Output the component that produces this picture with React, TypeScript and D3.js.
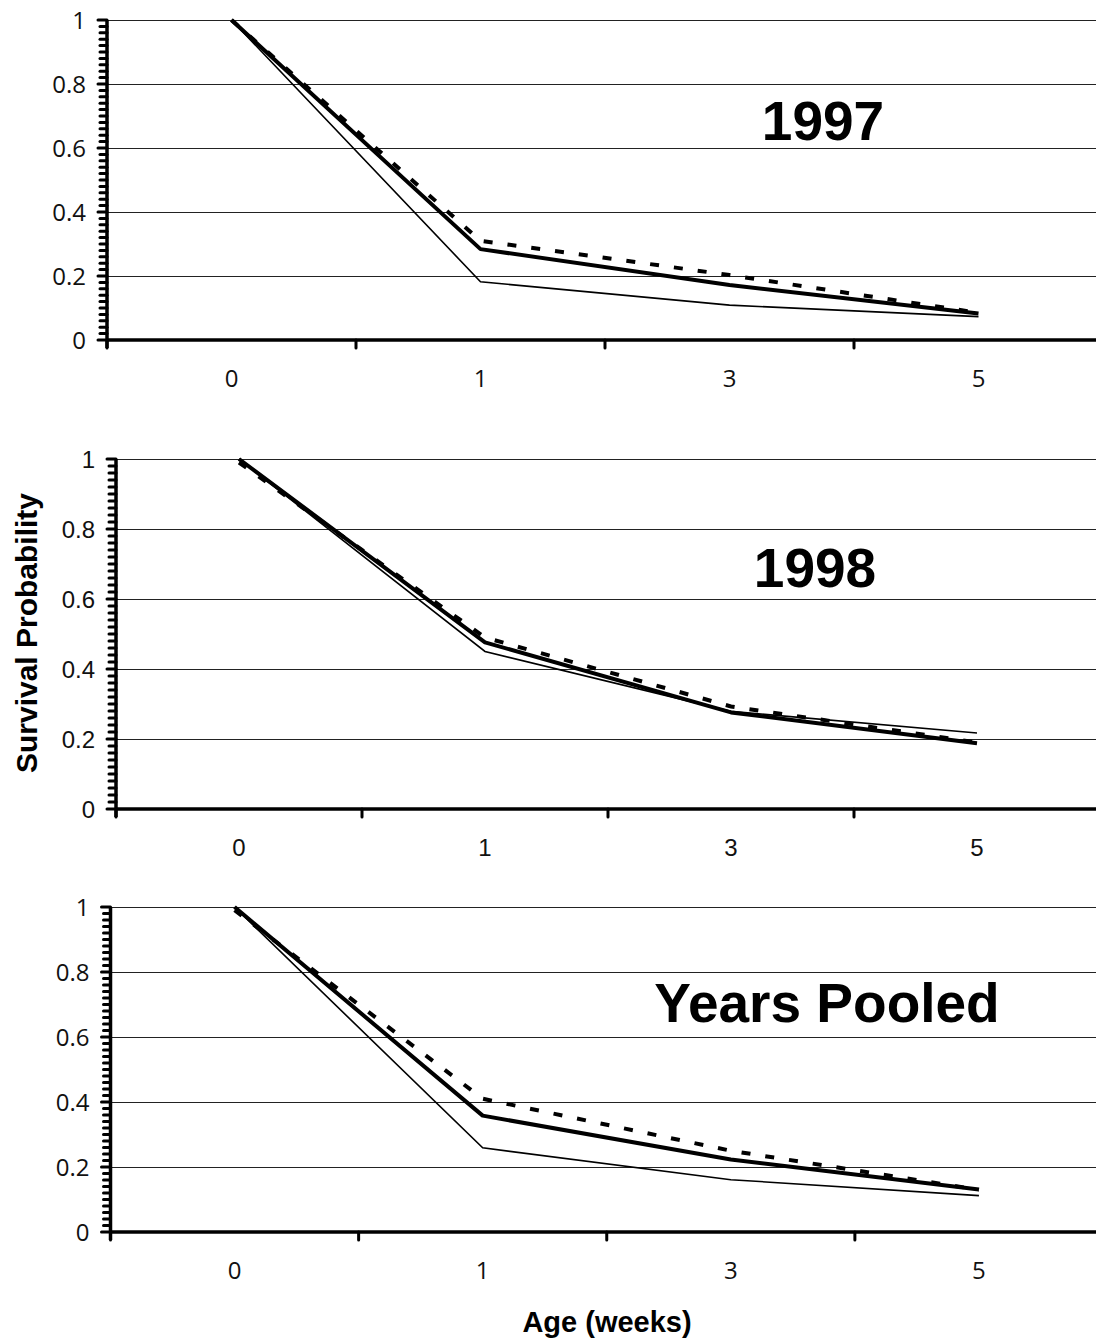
import React from "react";
import * as d3 from "d3";

const categories = ["0", "1", "3", "5"];
const yMajorTicks = [0, 0.2, 0.4, 0.6, 0.8, 1];
const yTickLabels = ["0", "0.2", "0.4", "0.6", "0.8", "1"];

const thick1997 = [1, 0.284, 0.172, 0.083];
const thin1997 = [1, 0.182, 0.109, 0.073];
const dashed1997 = [1, 0.31, 0.203, 0.085];

const thick1998 = [1, 0.476, 0.276, 0.188];
const thin1998 = [1, 0.45, 0.279, 0.217];
const dashed1998 = [0.99, 0.49, 0.293, 0.19];

const thickPooled = [1, 0.358, 0.223, 0.131];
const thinPooled = [1, 0.259, 0.161, 0.112];
const dashedPooled = [0.99, 0.41, 0.25, 0.13];

const titles = ["1997", "1998", "Years Pooled"];

type PanelCfg = {
  axisX: number;
  yTop: number;
  yBottom: number;
  xRight: number;
  title: string;
  titleX: number;
  titleY: number;
  tickFont: string;
  thick: number[];
  thin: number[];
  dashed: number[];
};

const panels: PanelCfg[] = [
  { axisX: 107, yTop: 20, yBottom: 340, xRight: 1103, title: titles[0], titleX: 823, titleY: 140, tickFont: "'Open Sans', sans-serif", thick: thick1997, thin: thin1997, dashed: dashed1997 },
  { axisX: 116, yTop: 459, yBottom: 809, xRight: 1100, title: titles[1], titleX: 815, titleY: 587, tickFont: "'Liberation Sans', Arial, sans-serif", thick: thick1998, thin: thin1998, dashed: dashed1998 },
  { axisX: 110.5, yTop: 907, yBottom: 1232, xRight: 1103, title: titles[2], titleX: 827, titleY: 1022, tickFont: "'Open Sans', sans-serif", thick: thickPooled, thin: thinPooled, dashed: dashedPooled },
];

function Panel({ cfg }: { cfg: PanelCfg }) {
  const x = d3.scaleBand<string>().domain(categories).range([cfg.axisX, cfg.xRight]);
  const y = d3.scaleLinear().domain([0, 1]).range([cfg.yBottom, cfg.yTop]);
  const cx = (i: number) => (x(categories[i]) as number) + x.bandwidth() / 2;
  const line = d3
    .line<number>()
    .x((_, i) => cx(i))
    .y((d) => y(d));
  const minor = d3.range(0, 51).map((k) => k / 50).filter((v) => Math.round(v * 50) % 10 !== 0);
  const boundaries = categories.map((c) => x(c) as number).concat([cfg.xRight]);
  return (
    <g>
      {yMajorTicks.filter((t) => t > 0).map((t) => (
        <line key={"g" + t} x1={cfg.axisX} x2={1100} y1={Math.round(y(t)) + 0.5} y2={Math.round(y(t)) + 0.5} stroke="#222" strokeWidth={1} />
      ))}
      {minor.map((t) => (
        <line key={"m" + t} x1={cfg.axisX - 7} x2={cfg.axisX} y1={y(t)} y2={y(t)} stroke="#000" strokeWidth={3} strokeLinecap="round" />
      ))}
      {yMajorTicks.map((t) => (
        <line key={"M" + t} x1={cfg.axisX - 9} x2={cfg.axisX} y1={y(t)} y2={y(t)} stroke="#000" strokeWidth={3} strokeLinecap="round" />
      ))}
      {yMajorTicks.map((t, i) => (
        <text key={"l" + t} x={cfg.axisX - 21} y={y(t)} dy="0.36em" textAnchor="end" fontFamily={cfg.tickFont} fontSize={24} fill="#111">
          {yTickLabels[i]}
        </text>
      ))}
      <line x1={cfg.axisX} x2={cfg.axisX} y1={cfg.yTop} y2={cfg.yBottom + 8} stroke="#000" strokeWidth={3.5} />
      <line x1={cfg.axisX} x2={cfg.xRight} y1={cfg.yBottom} y2={cfg.yBottom} stroke="#000" strokeWidth={3.5} />
      {boundaries.map((b, i) => (
        <line key={"xt" + i} x1={b} x2={b} y1={cfg.yBottom} y2={cfg.yBottom + 8} stroke="#000" strokeWidth={3} strokeLinecap="round" />
      ))}
      {categories.map((c, i) => (
        <text key={"xl" + c} x={cx(i)} y={cfg.yBottom + 47} textAnchor="middle" fontFamily={cfg.tickFont} fontSize={24} fill="#111">
          {c}
        </text>
      ))}
      <path d={line(cfg.thin) || ""} fill="none" stroke="#000" strokeWidth={1.6} />
      <path d={line(cfg.dashed) || ""} fill="none" stroke="#000" strokeWidth={4} strokeDasharray="9 15" />
      <path d={line(cfg.thick) || ""} fill="none" stroke="#000" strokeWidth={4} strokeLinejoin="round" />
      <text x={cfg.titleX} y={cfg.titleY} textAnchor="middle" fontFamily="'Liberation Sans', Arial, sans-serif" fontWeight="bold" fontSize={55} fill="#000">
        {cfg.title}
      </text>
    </g>
  );
}

export default function App() {
  return (
    <svg width={1096} height={1342} style={{ position: "absolute", left: 0, top: 0, background: "#fff" }}>
      <rect x={0} y={0} width={1096} height={1342} fill="#fff" />
      {panels.map((p, i) => (
        <Panel key={i} cfg={p} />
      ))}
      <text transform="translate(37,633) rotate(-90)" textAnchor="middle" fontFamily="'Liberation Sans', Arial, sans-serif" fontWeight="bold" fontSize={30} fill="#000">
        Survival Probability
      </text>
      <text x={607} y={1332} textAnchor="middle" fontFamily="'Liberation Sans', Arial, sans-serif" fontWeight="bold" fontSize={29} fill="#000">
        Age (weeks)
      </text>
    </svg>
  );
}
